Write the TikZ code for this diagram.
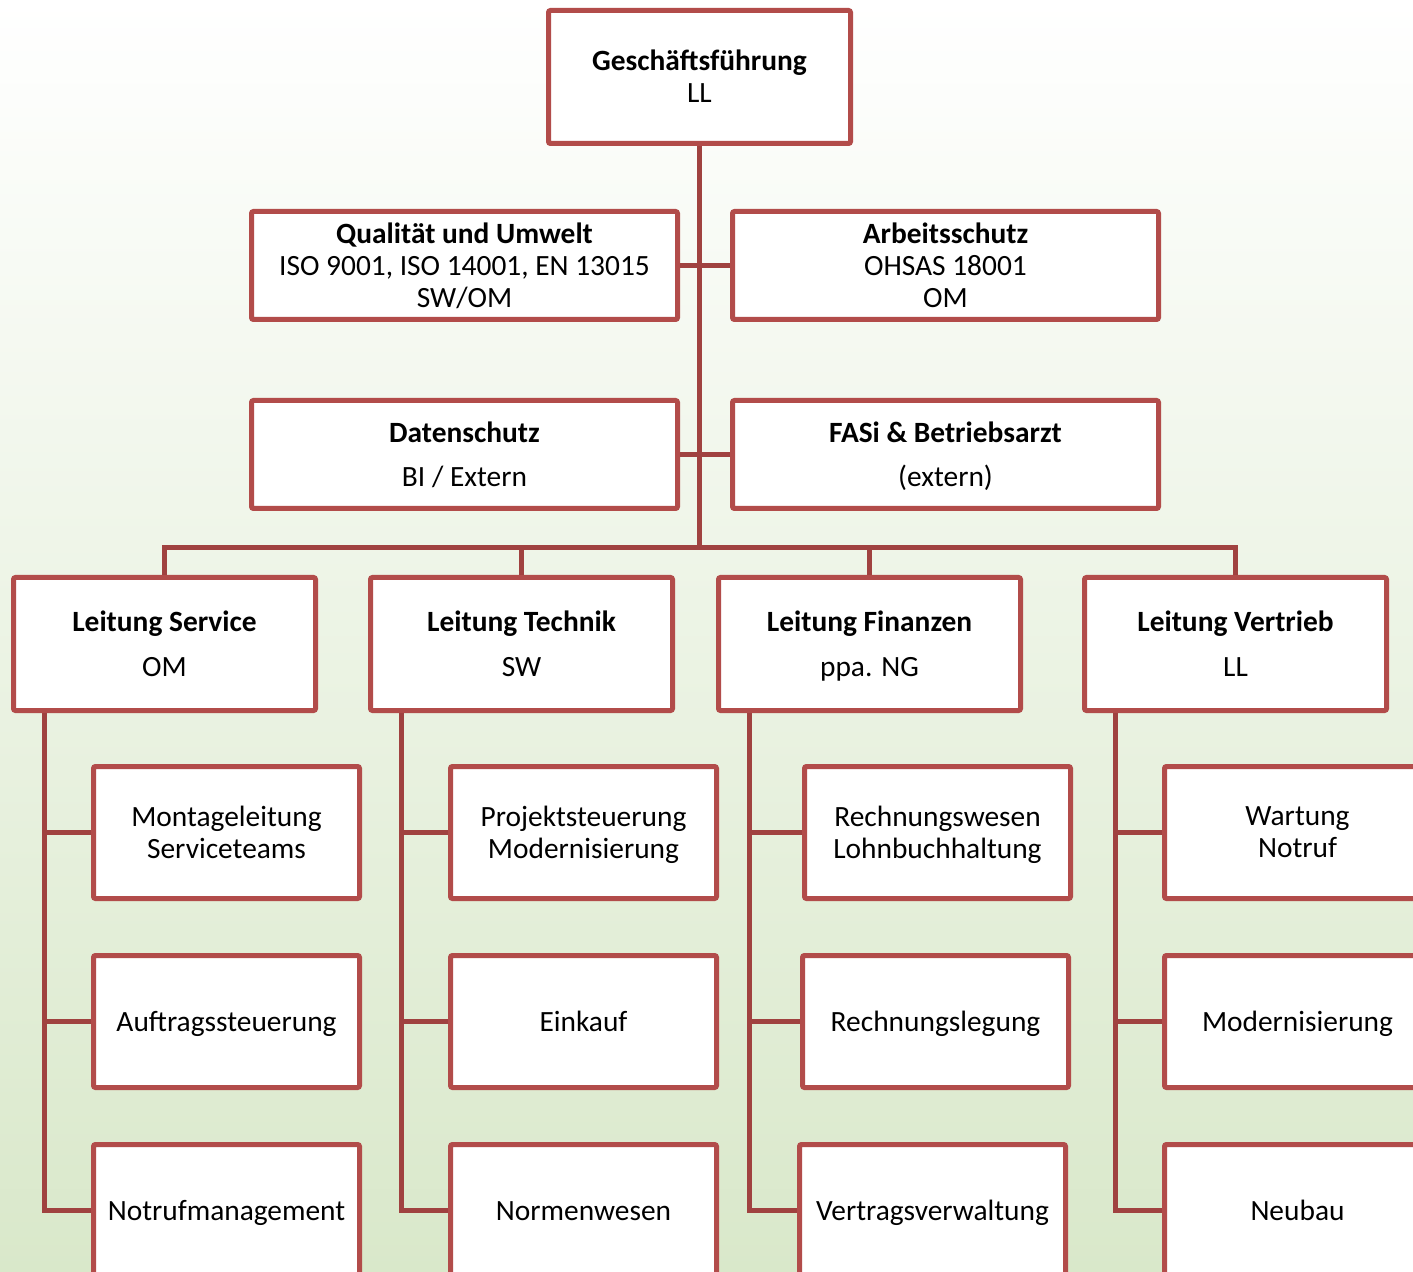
\documentclass[tikz,border=0pt]{standalone}
\usepackage{fontspec}
\setmainfont{Carlito}
\usetikzlibrary{positioning}
\definecolor{boxred}{RGB}{178,76,74}
\definecolor{linered}{RGB}{160,66,64}
\definecolor{bggreen}{RGB}{217,232,202}
\newcommand{\boxstrut}{\rule[-3.6pt]{0pt}{17pt}}

\begin{document}
\begin{tikzpicture}[
  x=0.5pt, y=-0.5pt,
  box/.style = {draw=boxred, line width=2.5pt, fill=white, rounded corners=1pt, align=center, inner sep=0pt,
    font=\fontsize{14.7}{16}\selectfont, execute at begin node=\boxstrut, execute at end node=\boxstrut},
  twoline/.style = {text depth=0.6pt},
  headbox/.style = {box, twoline, minimum width=151pt, minimum height=66.5pt},
  staffbox/.style = {box, twoline, minimum width=213pt, minimum height=54pt},
  leadbox/.style = {box, twoline, minimum width=151pt, minimum height=66.5pt},
  unitbox/.style = {box, minimum width=133pt, minimum height=66pt},
  conn/.style = {draw=linered, line width=2.5pt},
  node distance=26pt and 25pt
]

  % Hintergrund
  \useasboundingbox (0,0) rectangle (1413,1272);
  \shade[top color=white, bottom color=bggreen] (0,0) rectangle (1413,1272);
  \clip (0,0) rectangle (1413,1272);

  % Geschaeftsfuehrung
  \node[headbox] (gf) at (699.5,77) {\textbf{Geschäftsführung}\\LL};

  % Stabsstellen
  \node[staffbox] (qual) at (464.5,265.5) {\textbf{Qualität und Umwelt}\\ISO 9001, ISO 14001, EN 13015\\SW/OM};
  \node[staffbox, right=of qual] (arbeit) {\textbf{Arbeitsschutz}\\OHSAS 18001\\OM};
  \node[staffbox, below=38pt of qual] (daten) {\textbf{Datenschutz}\\[6pt]BI / Extern};
  \node[staffbox, right=of daten] (fasi) {\textbf{FASi \& Betriebsarzt}\\[6pt](extern)};

  % Leitungsebene
  \node[leadbox] (service) at (164.5,644) {\textbf{Leitung Service}\\[6.5pt]OM};
  \node[leadbox, right=of service] (technik) {\textbf{Leitung Technik}\\[6.5pt]SW};
  \node[leadbox, right=20.5pt of technik] (finanzen) {\textbf{Leitung Finanzen}\\[6.5pt]ppa. NG};
  \node[leadbox, right=29.5pt of finanzen] (vertrieb) {\textbf{Leitung Vertrieb}\\[6.5pt]LL};

  % Bereiche Service
  \node[unitbox, twoline] (montage) at (226.5,832.5) {Montageleitung\\Serviceteams};
  \node[unitbox, below=of montage] (auftrag) {Auftragssteuerung};
  \node[unitbox, below=of auftrag] (notruf) {Notrufmanagement};

  % Bereiche Technik
  \node[unitbox, twoline] (projekt) at (583.5,832.5) {Projektsteuerung\\Modernisierung};
  \node[unitbox, below=of projekt] (einkauf) {Einkauf};
  \node[unitbox, below=of einkauf] (normen) {Normenwesen};

  % Bereiche Finanzen
  \node[unitbox, twoline] (rewe) at (937.5,832.5) {Rechnungswesen\\Lohnbuchhaltung};
  \node[unitbox, below=of rewe, xshift=-1pt] (legung) {Rechnungslegung};
  \node[unitbox, below=of legung, xshift=-1.5pt] (vertrag) {Vertragsverwaltung};

  % Bereiche Vertrieb
  \node[unitbox, twoline] (wartung) at (1297.5,832.5) {Wartung\\Notruf};
  \node[unitbox, below=of wartung] (modern) {Modernisierung};
  \node[unitbox, below=of modern] (neubau) {Neubau};

  % Stamm und Querverbindungen
  \coordinate (bus) at (700,548);
  \draw[conn] (gf.south) -- (gf.south |- bus);
  \draw[conn] (qual.east) -- (arbeit.west);
  \draw[conn] (daten.east) -- (fasi.west);

  % Verteiler zur Leitungsebene
  \draw[conn] (service.north) -- (service.north |- bus) -- (vertrieb.north |- bus) -- (vertrieb.north);
  \draw[conn] (technik.north) -- (technik.north |- bus);
  \draw[conn] (finanzen.north) -- (finanzen.north |- bus);

  % Service -> Bereiche
  \coordinate (sstem) at ([xshift=16.5pt]service.south west);
  \draw[conn] (sstem) |- (notruf.west);
  \draw[conn] (montage.west) -- (montage.west -| sstem);
  \draw[conn] (auftrag.west) -- (auftrag.west -| sstem);

  % Technik -> Bereiche
  \coordinate (tstem) at ([xshift=16.5pt]technik.south west);
  \draw[conn] (tstem) |- (normen.west);
  \draw[conn] (projekt.west) -- (projekt.west -| tstem);
  \draw[conn] (einkauf.west) -- (einkauf.west -| tstem);

  % Finanzen -> Bereiche
  \coordinate (fstem) at ([xshift=16.5pt]finanzen.south west);
  \draw[conn] (fstem) |- (vertrag.west);
  \draw[conn] (rewe.west) -- (rewe.west -| fstem);
  \draw[conn] (legung.west) -- (legung.west -| fstem);

  % Vertrieb -> Bereiche
  \coordinate (vstem) at ([xshift=16.5pt]vertrieb.south west);
  \draw[conn] (vstem) |- (neubau.west);
  \draw[conn] (wartung.west) -- (wartung.west -| vstem);
  \draw[conn] (modern.west) -- (modern.west -| vstem);

\end{tikzpicture}
\end{document}
